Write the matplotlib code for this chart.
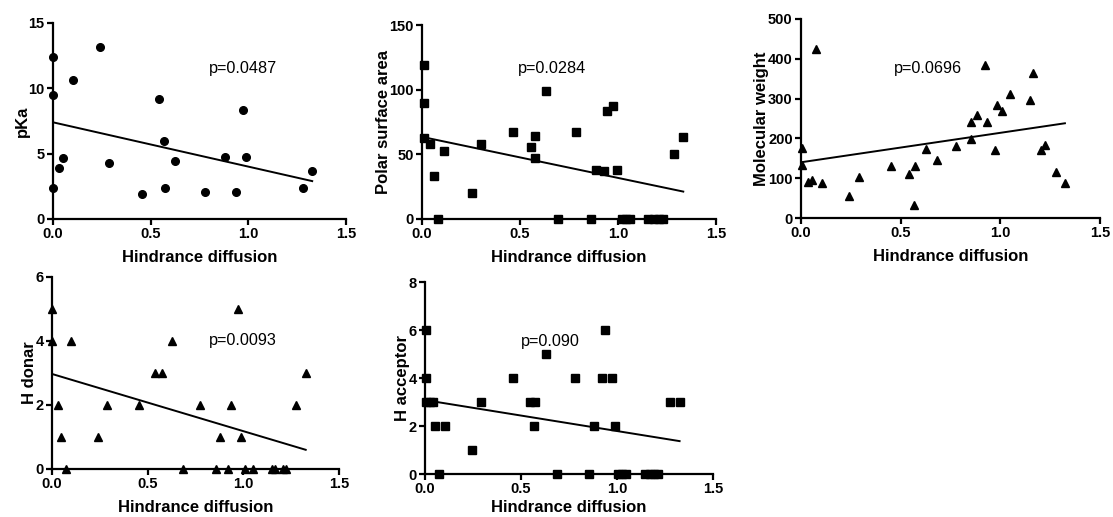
import matplotlib
matplotlib.use("Agg")
import matplotlib.pyplot as plt

plt.rcParams['font.family'] = ['Liberation Sans', 'DejaVu Sans']

x_label = "Hindrance diffusion"
x_ticks = [0.0, 0.5, 1.0, 1.5]

# Panel 1: pKa
pka_x = [0.0, 0.0, 0.0, 0.032, 0.05, 0.104, 0.241, 0.289, 0.455, 0.544, 0.566, 0.571,
         0.626, 0.778, 0.879, 0.935, 0.973, 0.988, 1.279, 1.327]
pka_y = [12.4, 9.5, 2.4, 3.9, 4.7, 10.6, 13.2, 4.3, 1.9, 9.2, 6.0, 2.35,
         4.46, 2.04, 4.77, 2.09, 8.32, 4.77, 2.35, 3.65]
pka_fit_x = [0.0, 1.327]
pka_fit_y = [7.4, 2.9]

# Panel 2: Polar surface area
psa_x = [0.012, 0.012, 0.012, 0.043, 0.063, 0.084, 0.114, 0.255, 0.299, 0.465, 0.554,
         0.576, 0.579, 0.634, 0.692, 0.786, 0.861, 0.887, 0.931, 0.943, 0.977, 0.994,
         1.018, 1.042, 1.061, 1.153, 1.184, 1.210, 1.232, 1.285, 1.333]
psa_y = [119, 90, 62.8, 58.2, 33.1, 0, 52.5, 20.2, 58.2, 67, 55.3,
         46.8, 63.9, 99, 0, 67, 0, 37.8, 37, 83.8, 87.1, 37.8,
         0, 0, 0, 0, 0, 0, 0, 49.9, 63.6]
psa_fit_x = [0.0, 1.333]
psa_fit_y = [63.5, 21.2]

# Panel 3: Molecular weight
mw_x = [0.003, 0.003, 0.033, 0.054, 0.075, 0.104, 0.241, 0.289, 0.453, 0.543, 0.569,
        0.572, 0.625, 0.684, 0.776, 0.853, 0.855, 0.881, 0.925, 0.933, 0.972, 0.985,
        1.01, 1.05, 1.149, 1.166, 1.202, 1.224, 1.279, 1.326]
mw_y = [177, 132, 91, 95, 424, 89, 56, 104, 130, 110, 33,
        130, 174, 145, 180, 199, 240, 258, 384, 242, 170, 284,
        270, 311, 297, 365, 170, 183, 115, 88]
mw_fit_x = [0.0, 1.324]
mw_fit_y = [140, 238]

# Panel 4: H donar
hd_x = [0.0, 0.0, 0.031, 0.049, 0.075, 0.101, 0.242, 0.289, 0.455, 0.54, 0.573, 0.625,
        0.683, 0.775, 0.855, 0.876, 0.922, 0.936, 0.970, 0.988, 1.010, 1.052, 1.152,
        1.166, 1.207, 1.225, 1.277, 1.326]
hd_y = [5, 4, 2, 1, 0, 4, 1, 2, 2, 3, 3, 4,
        0, 2, 0, 1, 0, 2, 5, 1, 0, 0, 0,
        0, 0, 0, 2, 3]
hd_fit_x = [0.0, 1.326]
hd_fit_y = [2.97, 0.6]

# Panel 5: H acceptor
ha_x = [0.003, 0.003, 0.003, 0.026, 0.04, 0.054, 0.075, 0.106, 0.245, 0.291, 0.456,
        0.546, 0.572, 0.569, 0.628, 0.687, 0.779, 0.855, 0.879, 0.924, 0.936, 0.973,
        0.99, 1.007, 1.026, 1.049, 1.148, 1.170, 1.191, 1.216, 1.278, 1.326]
ha_y = [6, 4, 3, 3, 3, 2, 0, 2, 1, 3, 4,
        3, 3, 2, 5, 0, 4, 0, 2, 4, 6, 4,
        2, 0, 0, 0, 0, 0, 0, 0, 3, 3]
ha_fit_x = [0.0, 1.326]
ha_fit_y = [3.08, 1.37]

panels = [
    dict(x=pka_x, y=pka_y, fx=pka_fit_x, fy=pka_fit_y, ylabel="pKa", marker="o",
         ms=5.5, yticks=[0, 5, 10, 15], p="p=0.0487", pxy=(0.975, 11.55),
         box=(53, 346, 23, 219), xpad=6),
    dict(x=psa_x, y=psa_y, fx=psa_fit_x, fy=psa_fit_y, ylabel="Polar surface area", marker="s",
         ms=5.7, yticks=[0, 50, 100, 150], p="p=0.0284", pxy=(0.665, 116),
         box=(422, 716, 25, 219), xpad=6),
    dict(x=mw_x, y=mw_y, fx=mw_fit_x, fy=mw_fit_y, ylabel="Molecular weight", marker="^",
         ms=5.8, yticks=[0, 100, 200, 300, 400, 500], p="p=0.0696", pxy=(0.639, 375),
         box=(801, 1100, 19, 218), xpad=6),
    dict(x=hd_x, y=hd_y, fx=hd_fit_x, fy=hd_fit_y, ylabel="H donar", marker="^",
         ms=5.8, yticks=[0, 2, 4, 6], p="p=0.0093", pxy=(1.0, 4.0),
         box=(52, 339, 277, 469), xpad=6),
    dict(x=ha_x, y=ha_y, fx=ha_fit_x, fy=ha_fit_y, ylabel="H acceptor", marker="s",
         ms=5.7, yticks=[0, 2, 4, 6, 8], p="p=0.090", pxy=(0.651, 5.54),
         box=(425, 713, 282, 474), xpad=2.5),
]

W, H = 1113, 517
fig = plt.figure(figsize=(W / 100, H / 100), dpi=100)

for pnl in panels:
    l, r, t, b = pnl["box"]
    ax = fig.add_axes([l / W, 1 - b / H, (r - l) / W, (b - t) / H])
    ax.plot(pnl["x"], pnl["y"], linestyle="none", marker=pnl["marker"], ms=pnl["ms"],
            color="black", clip_on=False, zorder=3)
    ax.plot(pnl["fx"], pnl["fy"], color="black", lw=1.4, zorder=2)
    ax.set_xlim(0, 1.5)
    ax.set_ylim(pnl["yticks"][0], pnl["yticks"][-1])
    ax.set_xticks(x_ticks)
    ax.set_xticklabels([f"{v:.1f}" for v in x_ticks])
    ax.set_yticks(pnl["yticks"])
    for s in ("top", "right"):
        ax.spines[s].set_visible(False)
    for s in ("left", "bottom"):
        ax.spines[s].set_linewidth(1.6)
    ax.tick_params(direction="out", length=4, width=1.6, labelsize=10.5, pad=2)
    for lab in ax.get_xticklabels() + ax.get_yticklabels():
        lab.set_fontweight("bold")
    ax.set_xlabel(x_label, fontsize=12, fontweight="bold", labelpad=pnl["xpad"])
    ax.set_ylabel(pnl["ylabel"], fontsize=12, fontweight="bold", labelpad=-1)
    ax.text(pnl["pxy"][0], pnl["pxy"][1], pnl["p"], fontsize=11.7, ha="center", va="center")

fig.savefig("out.png", dpi=100)
